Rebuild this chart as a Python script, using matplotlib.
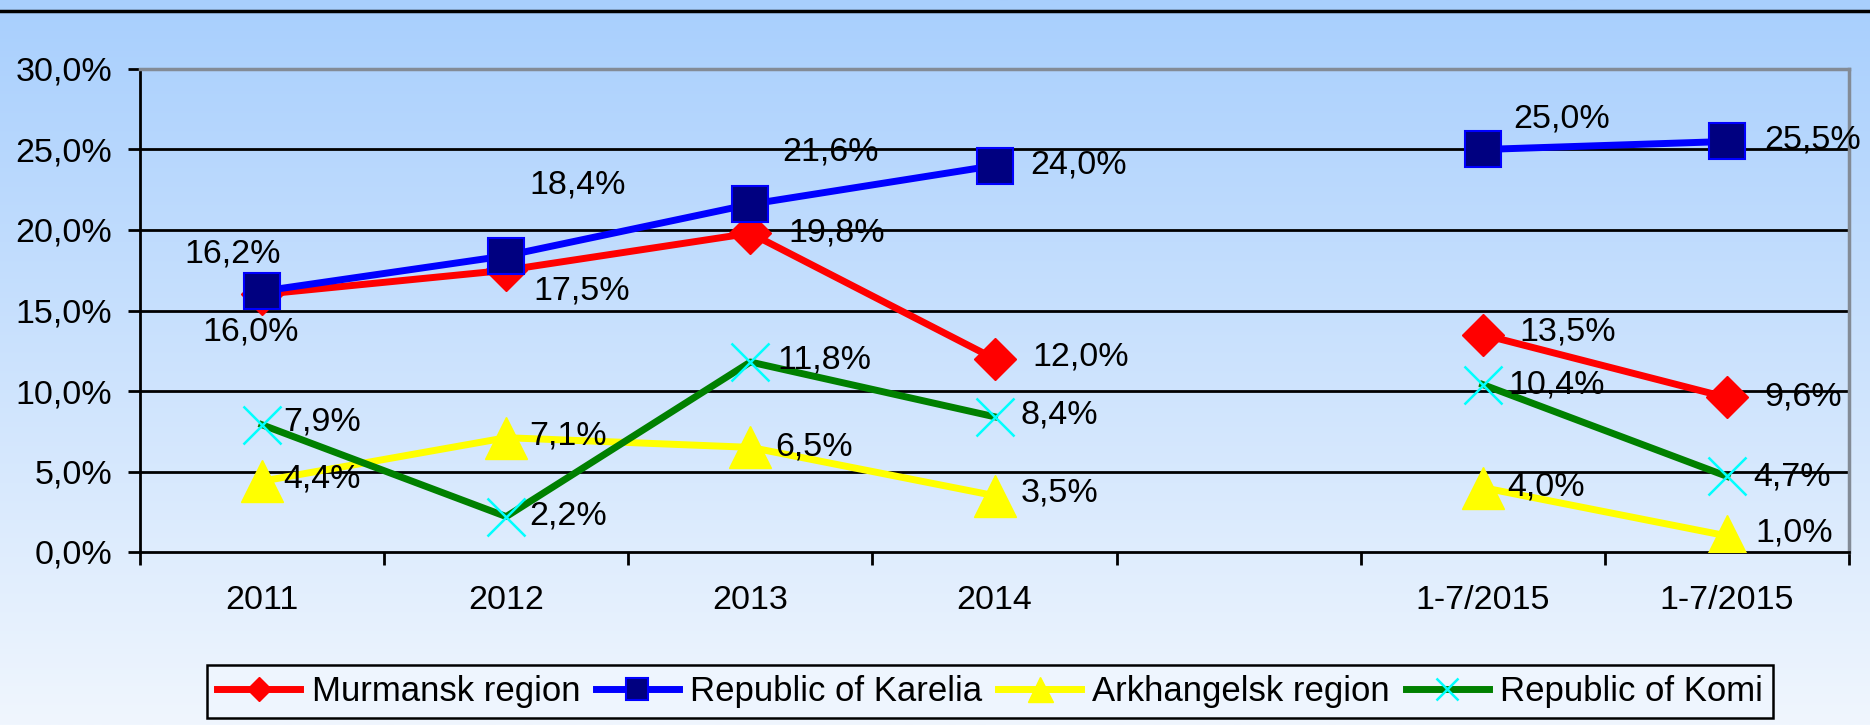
import numpy as np
import matplotlib
matplotlib.use("Agg")
import matplotlib.pyplot as plt
from matplotlib.lines import Line2D
from matplotlib.colors import LinearSegmentedColormap

plt.rcParams["font.family"] = ["Liberation Sans", "DejaVu Sans"]

# --- data ---
categories = ["2011", "2012", "2013", "2014", "", "1-7/2015", "1-7/2015"]
murmansk = [16.0, 17.5, 19.8, 12.0, np.nan, 13.5, 9.6]
karelia = [16.2, 18.4, 21.6, 24.0, np.nan, 25.0, 25.5]
arkhangelsk = [4.4, 7.1, 6.5, 3.5, np.nan, 4.0, 1.0]
komi = [7.9, 2.2, 11.8, 8.4, np.nan, 10.4, 4.7]
yticks = [0, 5, 10, 15, 20, 25, 30]

# --- styles: (label, values, line colour, marker, size, face, edge, mew) ---
series = [
    ("Murmansk region", murmansk, "#ff0000", "D", 21, "#ff0000", "#ff0000", 1),
    ("Republic of Karelia", karelia, "#0000ff", "s", 26, "#000080", "#0000ff", 1.5),
    ("Arkhangelsk region", arkhangelsk, "#ffff00", "^", 30, "#ffff00", "#ffff00", 1),
    ("Republic of Komi", komi, "#008000", "x", 27, "#00ffff", "#00ffff", 1.8),
]

# label offsets in pixels (dx, dy, ha) per series, per point
offsets = {
    "Murmansk region": [(-11, -38, "center"), (27, -21, "left"), (38, 0, "left"),
                        (38, 2, "left"), None, (37, 3, "left"), (37, 0, "left")],
    "Republic of Karelia": [(-29, 37, "center"), (23, 71, "left"), (32, 52, "left"),
                            (36, 1, "left"), None, (30, 30, "left"), (37, 1, "left")],
    "Arkhangelsk region": [(21, 2, "left"), (23, 2, "left"), (25, 0, "left"),
                           (26, 3, "left"), None, (24, 1, "left"), (28, 3, "left")],
    "Republic of Komi": [(21, 3, "left"), (23, 1, "left"), (27, 2, "left"),
                         (26, 2, "left"), None, (26, 0, "left"), (26, -1, "left")],
}

W, H = 1870, 725
fig = plt.figure(figsize=(W / 100, H / 100), dpi=100)

# background gradient
bg = fig.add_axes([0, 0, 1, 1], zorder=-10)
cmap = LinearSegmentedColormap.from_list("bg", ["#a8cffd", "#f0f6fe"])
bg.imshow(np.linspace(0, 1, 256).reshape(-1, 1), cmap=cmap, aspect="auto",
          extent=[0, 1, 0, 1])
bg.axis("off")

fig.add_artist(Line2D([0, 1], [1 - 11 / H] * 2, color="black", lw=2.5,
                      transform=fig.transFigure))

ax = fig.add_axes([140 / W, 1 - 552 / H, (1849 - 140) / W, (552 - 69) / H])
ax.set_facecolor("none")

x = np.arange(len(categories))
for v in yticks[1:-1]:
    ax.axhline(v, color="black", lw=2, zorder=1)

fs = 24.5
for name, vals, col, mk, ms, mfc, mec, mew in series:
    ax.plot(x, vals, color=col, lw=5, marker=mk, markersize=ms,
            markerfacecolor=mfc, markeredgecolor=mec, markeredgewidth=mew,
            label=name, zorder=3)
    for xi, v, off in zip(x, vals, offsets[name]):
        if off is None or np.isnan(v):
            continue
        dx, dy, ha = off
        ax.annotate(f"{v:.1f}%".replace(".", ","), (xi, v), xytext=(dx, dy),
                    textcoords="offset pixels", ha=ha, va="center",
                    fontsize=fs, color="black", zorder=4)

ax.set_xlim(-0.5, len(categories) - 0.5)
ax.set_ylim(0, 30)
ax.set_yticks(yticks)
ax.set_yticklabels([f"{t:.1f}%".replace(".", ",") for t in yticks], fontsize=fs)
ax.set_xticks(np.arange(-0.5, len(categories)))
ax.set_xticklabels([])
ax.set_xticks(x, minor=True)
ax.set_xticklabels(categories, minor=True, fontsize=fs)
ax.tick_params(axis="x", which="major", length=9, width=2, color="black")
ax.tick_params(axis="x", which="minor", length=0, pad=24)
ax.tick_params(axis="y", length=9, width=2, pad=11)

for s in ["left", "bottom"]:
    ax.spines[s].set_color("black")
    ax.spines[s].set_linewidth(2)
for s in ["top", "right"]:
    ax.spines[s].set_color("#838b96")
    ax.spines[s].set_linewidth(2.5)

leg = fig.legend(loc="center", bbox_to_anchor=(990 / W, 1 - 691.5 / H), ncol=4,
                 fontsize=25, frameon=True, fancybox=False, framealpha=1,
                 edgecolor="black", facecolor="#eef5fe", markerscale=0.6,
                 handlelength=2.4, handletextpad=0.32, columnspacing=0.45,
                 borderpad=0.3, borderaxespad=0)
leg.get_frame().set_linewidth(1.8)

fig.savefig("out.png", dpi=100)
